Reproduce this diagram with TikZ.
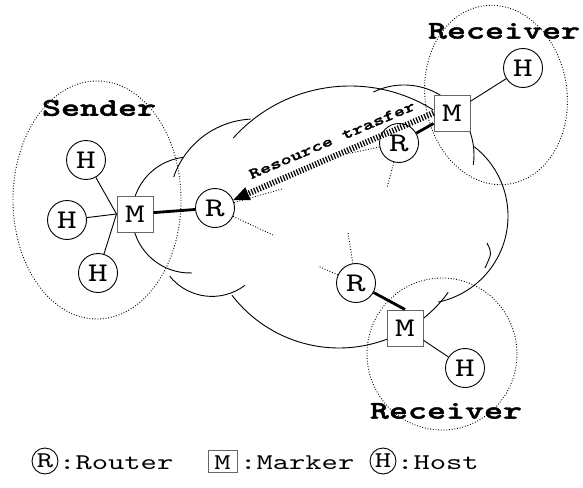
\documentclass[tikz,border=0pt]{standalone}
\usepackage{fontspec}
\newfontfamily\mono[FakeStretch=1.38]{lmmono10-regular.otf}
\newfontfamily\bmono[FakeStretch=1.42,FakeBold=1.6]{lmmonolt10-bold.otf}
\usetikzlibrary{calc}
\begin{document}
\begin{tikzpicture}[x=1pt,y=-1pt,
  thinl/.style={line width=0.9pt},
  thickl/.style={line width=2.8pt},
  dotl/.style={line width=0.9pt, dash pattern=on 0.9pt off 1.8pt},
  cloudarc/.style={line width=0.9pt},
  rnode/.style={circle, draw, line width=0.9pt, fill=white, minimum size=39pt, inner sep=0pt, font=\mono\fontsize{27}{27}\selectfont},
  mnode/.style={rectangle, draw=black!60, line width=1pt, fill=white, minimum size=36pt, inner sep=0pt, font=\mono\fontsize{27}{27}\selectfont},
  grouplbl/.style={font=\bmono\fontsize{25.5}{25.5}\selectfont, inner sep=0pt},
  arrowlbl/.style={font=\bmono\fontsize{15}{15}\selectfont, inner sep=0pt},
  lcirc/.style={circle, draw, line width=0.9pt, minimum size=26pt, inner sep=0pt, font=\mono\fontsize{22.5}{22.5}\selectfont},
  lbox/.style={rectangle, draw=black!60, line width=1pt, minimum width=29pt, minimum height=22pt, inner sep=0pt, text height=16pt, text depth=0pt, font=\mono\fontsize{22.5}{22.5}\selectfont},
  ltext/.style={font=\mono\fontsize{22.5}{22.5}\selectfont, inner sep=0pt, anchor=base west},
  hatch/.style={line width=6pt, dash pattern=on 1.2pt off 1.7pt}
]
\useasboundingbox (0,0) rectangle (583,487);

% group ellipses
\draw[dotl] (97,200) ellipse[x radius=84, y radius=119];
\draw[dotl, rotate around={8:(496,95)}] (496,95) ellipse[x radius=71, y radius=90];
\draw[dotl] (442,354) ellipse[x radius=75, y radius=76];

% cloud
\draw[cloudarc] (190,215) ++(263:58) arc[start angle=263, end angle=88, radius=58];
\draw[cloudarc] (255,205) ++(199:86) arc[start angle=199, end angle=267, radius=86];
\draw[cloudarc] (350,243) ++(222:157) arc[start angle=222, end angle=302, radius=157];
\draw[cloudarc] (404,155) ++(244:70) arc[start angle=244, end angle=368, radius=70];
\draw[cloudarc] (420,216) ++(308:88) arc[start angle=308, end angle=438, radius=88];
\draw[cloudarc] (487,243) .. controls (492,253) .. (485,268);
\draw[cloudarc] (339,213) ++(142.5:135) arc[start angle=142.5, end angle=36, radius=135];
\draw[cloudarc] (212,242) ++(141:54.4) arc[start angle=141, end angle=53, radius=54.4];

% nodes
\node[rnode] (Hs1) at (86,160) {H};
\node[rnode] (Hs2) at (67,220) {H};
\node[rnode] (Hs3) at (98,273) {H};
\node[mnode] (Ms) at (135,214) {M};
\node[rnode] (Rs) at (215,208) {R};
\node[rnode] (Ht) at (523,68) {H};
\node[mnode] (Mt) at (452,113) {M};
\node[rnode] (Rt) at (399,143) {R};
\node[mnode] (Mb) at (405,328) {M};
\node[rnode] (Hb) at (465,368) {H};
\node[rnode] (Rb) at (356,283) {R};

% dotted links into the cloud
\coordinate (ds1) at (282,189);
\coordinate (ds2) at (273,235);
\coordinate (dt1) at (346,154);
\coordinate (dt2) at (387,188);
\coordinate (db1) at (348,233);
\coordinate (db2) at (318,266);
\draw[dotl] (Rs) -- (ds1);
\draw[dotl] (Rs) -- (ds2);
\draw[dotl] (Rt) -- (dt1);
\draw[dotl] (Rt) -- (dt2);
\draw[dotl] (Rb) -- (db1);
\draw[dotl] (Rb) -- (db2);

% links
\draw[thinl] (Hs1) -- (Ms.west);
\draw[thinl] (Hs2) -- (Ms.west);
\draw[thinl] (Hs3) -- (Ms.west);
\draw[thickl] (Ms) -- (Rs);
\draw[thickl] (Rt) -- (Mt);
\draw[thinl] (Mt) -- (Ht);
\draw[thickl] (Rb) -- (Mb.north);
\draw[thinl] (Mb) -- (Hb);

% resource transfer arrow
\coordinate (atip) at ($(Rs)!20pt!(Mt.west)$);
\coordinate (abase) at ($(Rs)!36pt!(Mt.west)$);
\coordinate (ab1) at ($(abase)!7pt!90:(atip)$);
\coordinate (ab2) at ($(abase)!7pt!-90:(atip)$);
\draw[hatch] (Mt.west) -- (abase);
\fill (atip) -- (ab1) -- (ab2) -- cycle;
\node[arrowlbl, rotate=23] (rtl) at (332,140) {Resource trasfer};

% group labels
\node[grouplbl] (lsend) at (99,108) {Sender};
\node[grouplbl] (lrec1) at (504,31) {Receiver};
\node[grouplbl] (lrec2) at (446,411) {Receiver};

% legend
\node[lcirc] (lr) at (45,461) {R};
\node[ltext] (ltr) at (59,469) {:Router};
\node[lbox] (lm) at (222.5,461.5) {M};
\node[ltext] (ltm) at (240,469) {:Marker};
\node[lcirc] (lh) at (383,461) {H};
\node[ltext] (lth) at (397,469) {:Host};
\end{tikzpicture}
\end{document}
